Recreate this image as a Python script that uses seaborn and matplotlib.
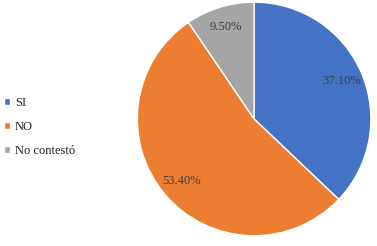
import matplotlib
matplotlib.use('Agg')
from matplotlib import pyplot as plt
import seaborn as sns

# data
categories = ['SI', 'NO', 'No contestó']
values = [37.10, 53.40, 9.50]
colors = ['#4472C4', '#ED7D31', '#A5A5A5']

sns.set_style('white')
plt.rcParams['font.family'] = ['Liberation Serif', 'DejaVu Serif']

fig = plt.figure(figsize=(3.77, 2.46), dpi=100)
ax = fig.add_axes([0.361, 0.037, 0.626, 0.959])

wedges, texts, autotexts = ax.pie(
    values, colors=colors, startangle=90, counterclock=False,
    autopct=lambda p: f'{p:.2f}%', pctdistance=0.82,
    wedgeprops=dict(edgecolor='white', linewidth=1),
    textprops=dict(color='#404040', fontsize=9))
ax.set_xlim(-1.01, 1.01)
ax.set_ylim(-1.01, 1.01)
ax.set_aspect('equal')

fig.legend(wedges, categories, loc='center left', bbox_to_anchor=(0.005, 0.484),
           frameon=False, fontsize=9, handlelength=0.45, handleheight=0.45,
           handletextpad=0.4, labelspacing=0.95, borderaxespad=0, borderpad=0.2,
           labelcolor='#202020')

fig.savefig('out.png', dpi=100)
